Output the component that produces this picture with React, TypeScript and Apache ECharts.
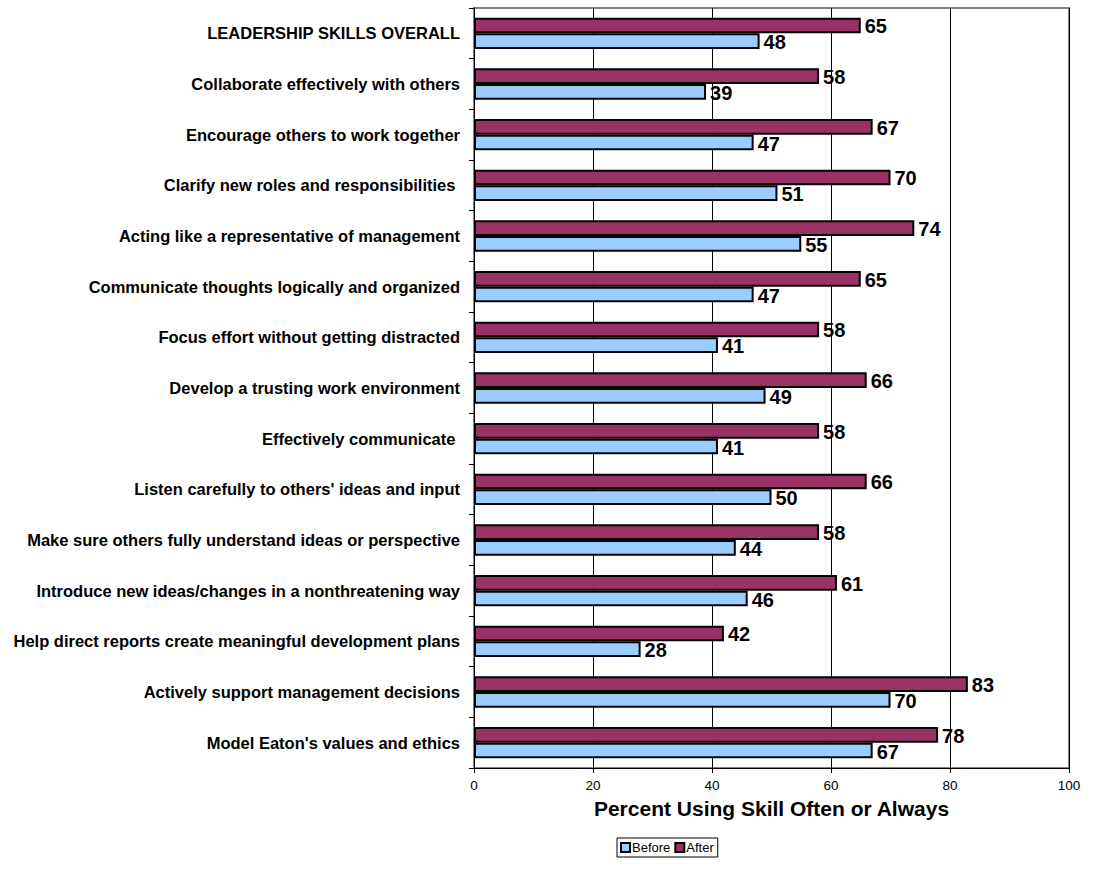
import React, { useEffect, useRef } from "react";
import * as echarts from "echarts";

const categories = [
  "LEADERSHIP SKILLS OVERALL",
  "Collaborate effectively with others",
  "Encourage others to work together",
  "Clarify new roles and responsibilities ",
  "Acting like a representative of management",
  "Communicate thoughts logically and organized",
  "Focus effort without getting distracted",
  "Develop a trusting work environment",
  "Effectively communicate ",
  "Listen carefully to others' ideas and input",
  "Make sure others fully understand ideas or perspective",
  "Introduce new ideas/changes in a nonthreatening way",
  "Help direct reports create meaningful development plans",
  "Actively support management decisions",
  "Model Eaton's values and ethics",
];
const afterValues = [65, 58, 67, 70, 74, 65, 58, 66, 58, 66, 58, 61, 42, 83, 78];
const beforeValues = [48, 39, 47, 51, 55, 47, 41, 49, 41, 50, 44, 46, 28, 70, 67];
const xTicks = { min: 0, max: 100, interval: 20 };

export default function App() {
  const ref = useRef<HTMLDivElement>(null);
  useEffect(() => {
    if (!ref.current) return;
    const chart = echarts.init(ref.current, undefined, { renderer: "svg" });
    const font = "Arial, 'Liberation Sans', sans-serif";
    const label = {
      show: true,
      position: "right" as const,
      distance: 4,
      offset: [0, 1],
      color: "#000",
      fontFamily: font,
      fontWeight: "bold" as const,
      fontSize: 20,
    };
    chart.setOption({
      animation: false,
      backgroundColor: "#fff",
      grid: {
        left: 474,
        right: 25,
        top: 8,
        bottom: 118,
        show: true,
        borderColor: "#808080",
        borderWidth: 2,
        backgroundColor: "transparent",
      },
      legend: {
        data: ["Before", "After"],
        left: 617,
        top: 838,
        orient: "horizontal",
        icon: "rect",
        itemWidth: 9,
        itemHeight: 9,
        itemGap: 4,
        borderColor: "#000",
        borderWidth: 1,
        padding: [3, 4, 3, 3],
        textStyle: { fontFamily: font, fontSize: 13, color: "#000", padding: [0, 0, 0, -3] },
      },
      xAxis: {
        type: "value",
        min: xTicks.min,
        max: xTicks.max,
        interval: xTicks.interval,
        name: "Percent Using Skill Often or Always",
        nameLocation: "middle",
        nameGap: 30,
        nameTextStyle: { fontFamily: font, fontWeight: "bold", fontSize: 21, color: "#000" },
        axisLine: { show: true, lineStyle: { color: "#000", width: 1 } },
        axisTick: { show: true, length: 5, lineStyle: { color: "#000" } },
        axisLabel: { fontFamily: font, fontSize: 13.5, color: "#000", margin: 10 },
        splitLine: { show: true, lineStyle: { color: "#000", width: 1 } },
      },
      yAxis: {
        type: "category",
        data: categories,
        inverse: true,
        axisLine: { show: true, lineStyle: { color: "#000", width: 1 } },
        axisTick: { show: true, length: 5, inside: false, lineStyle: { color: "#000" } },
        axisLabel: {
          fontFamily: font,
          fontWeight: "bold",
          fontSize: 16.5,
          color: "#000",
          margin: 14,
        },
      },
      series: [
        {
          name: "After",
          type: "bar",
          data: afterValues,
          barGap: "0%",
          barCategoryGap: "38%",
          itemStyle: { color: "#993366", borderColor: "#000", borderWidth: 2 },
          label,
        },
        {
          name: "Before",
          type: "bar",
          data: beforeValues,
          barGap: "0%",
          barCategoryGap: "38%",
          itemStyle: { color: "#99CCFF", borderColor: "#000", borderWidth: 2 },
          label,
        },
      ],
    });
    return () => chart.dispose();
  }, []);
  return (
    <div
      ref={ref}
      style={{ position: "fixed", left: 0, top: 0, width: 1094, height: 886 }}
    />
  );
}
